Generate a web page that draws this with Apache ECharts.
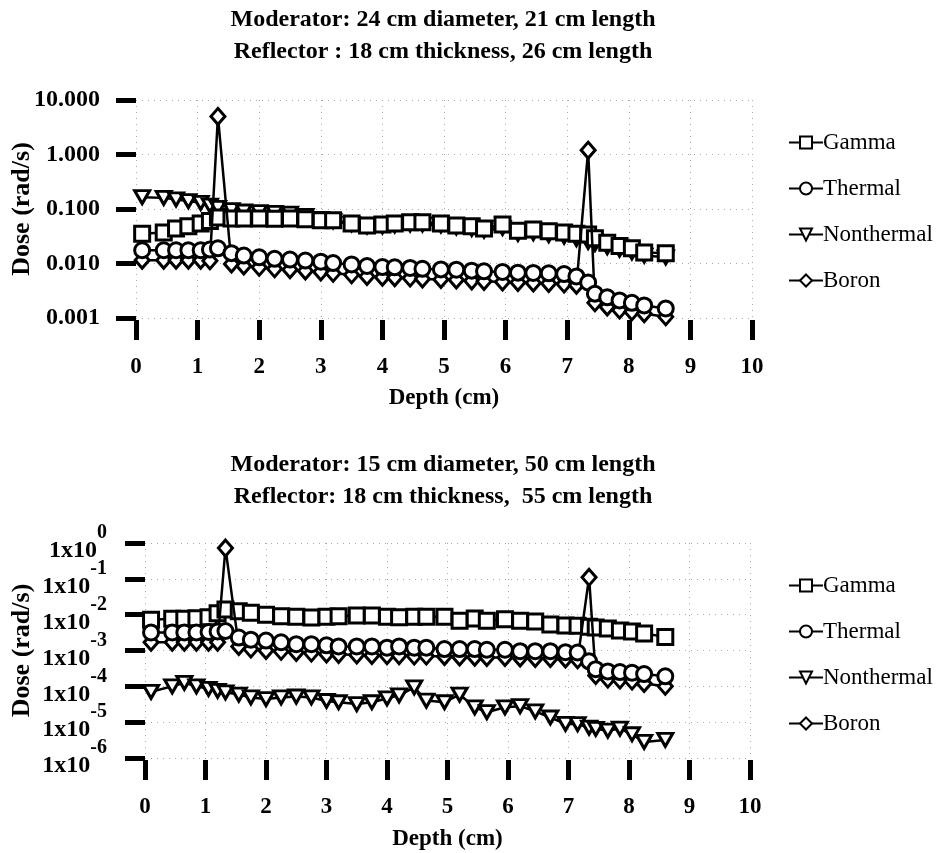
<!DOCTYPE html>
<html>
<head>
<meta charset="utf-8">
<script src="https://cdn.jsdelivr.net/npm/echarts@6/dist/echarts.min.js"></script>
<style>
  html, body { margin: 0; padding: 0; background: #fff; }
  #top { position: absolute; left: 0; top: 0; width: 942px; height: 430px; }
  #bottom { position: absolute; left: 0; top: 430px; width: 942px; height: 423px; }
</style>
</head>
<body>
<div id="top"></div>
<div id="bottom"></div>
<script>
// Depth positions (cm) shared by all dose profiles
const depth = [0.1, 0.45, 0.65, 0.85, 1.05, 1.2, 1.33, 1.55, 1.75, 2.0,
  2.25, 2.5, 2.75, 3.0, 3.2, 3.5, 3.75, 4.0, 4.2, 4.45,
  4.65, 4.95, 5.2, 5.45, 5.65, 5.95, 6.2, 6.45, 6.7, 6.95,
  7.15, 7.34, 7.45, 7.65, 7.85, 8.05, 8.25, 8.6];

// Case 1: 24 cm x 21 cm moderator, 18 cm x 26 cm reflector (rad/s)
const gammaA = [0.035, 0.037, 0.044, 0.048, 0.054, 0.060, 0.070, 0.067, 0.067, 0.067,
  0.066, 0.067, 0.065, 0.062, 0.062, 0.054, 0.050, 0.052, 0.054, 0.057,
  0.057, 0.054, 0.050, 0.048, 0.044, 0.052, 0.040, 0.042, 0.039, 0.037,
  0.035, 0.034, 0.029, 0.024, 0.021, 0.019, 0.016, 0.0155];
const thermalA = [0.0175, 0.0175, 0.0175, 0.0175, 0.0175, 0.018, 0.019, 0.0155, 0.0140, 0.0130,
  0.0122, 0.0118, 0.0113, 0.0108, 0.0102, 0.0096, 0.0090, 0.0086, 0.0085, 0.0083,
  0.0080, 0.0078, 0.0077, 0.0074, 0.0072, 0.0070, 0.0068, 0.0067, 0.0066, 0.0064,
  0.0058, 0.0045, 0.0028, 0.0024, 0.0021, 0.0019, 0.0017, 0.0015];
const nonthermalA = [0.165, 0.160, 0.150, 0.140, 0.130, 0.115, 0.105, 0.095, 0.090, 0.088,
  0.085, 0.082, 0.075, 0.066, 0.060, 0.053, 0.048, 0.048, 0.050, 0.052,
  0.052, 0.050, 0.046, 0.043, 0.040, 0.045, 0.035, 0.036, 0.033, 0.031,
  0.028, 0.025, 0.023, 0.020, 0.018, 0.016, 0.014, 0.013];
const boronA = [0.0115, 0.0115, 0.0115, 0.0115, 0.0115, 0.0112, 5.0, 0.0098, 0.0090, 0.0085,
  0.0080, 0.0077, 0.0073, 0.0070, 0.0066, 0.0062, 0.0058, 0.0056, 0.0055, 0.0054,
  0.0052, 0.0051, 0.0050, 0.0048, 0.0047, 0.0046, 0.0045, 0.0044, 0.0043, 0.0042,
  0.0040, 1.2, 0.0019, 0.0016, 0.0014, 0.0013, 0.0012, 0.00105];

// Case 2: 15 cm x 50 cm moderator, 18 cm x 55 cm reflector (rad/s)
const gammaB = [0.0072, 0.0077, 0.0077, 0.0080, 0.0085, 0.0110, 0.0140, 0.0125, 0.0114, 0.0100,
  0.0091, 0.0087, 0.0083, 0.0087, 0.0090, 0.0095, 0.0095, 0.0087, 0.0085, 0.0088,
  0.0088, 0.0088, 0.0068, 0.0078, 0.0068, 0.0075, 0.0068, 0.0064, 0.0053, 0.0050,
  0.0049, 0.0046, 0.0044, 0.0041, 0.0036, 0.0034, 0.0030, 0.0024];
const thermalB = [0.0032, 0.0032, 0.0032, 0.0032, 0.0033, 0.0034, 0.0035, 0.0023, 0.0020, 0.0019,
  0.0017, 0.0015, 0.0015, 0.0014, 0.0013, 0.0013, 0.0013, 0.0012, 0.0013, 0.0012,
  0.0012, 0.0011, 0.0011, 0.0011, 0.00105, 0.00105, 0.00096, 0.00096, 0.00096, 0.00090,
  0.00088, 0.00050, 0.00030, 0.00026, 0.00025, 0.00024, 0.00022, 0.00019];
const nonthermalB = [7.0e-5, 1.0e-4, 1.25e-4, 1.0e-4, 8.5e-5, 7.5e-5, 6.8e-5, 5.9e-5, 4.9e-5, 4.4e-5,
  4.9e-5, 5.2e-5, 4.9e-5, 3.9e-5, 3.6e-5, 3.2e-5, 3.6e-5, 4.6e-5, 5.6e-5, 9.4e-5,
  4.0e-5, 3.6e-5, 5.9e-5, 2.6e-5, 1.9e-5, 2.6e-5, 2.8e-5, 2.0e-5, 1.35e-5, 9.0e-6,
  8.8e-6, 7.0e-6, 6.5e-6, 5.8e-6, 6.6e-6, 4.6e-6, 2.8e-6, 3.2e-6];
const boronB = [0.0017, 0.0017, 0.0017, 0.0017, 0.0017, 0.0017, 0.72, 0.0013, 0.0011, 0.0010,
  0.00095, 0.00088, 0.00085, 0.00080, 0.00078, 0.00075, 0.00073, 0.00072, 0.00072, 0.00070,
  0.00070, 0.00068, 0.00066, 0.00065, 0.00064, 0.00064, 0.00062, 0.00060, 0.00060, 0.00058,
  0.00055, 0.11, 0.00020, 0.00016, 0.00015, 0.00014, 0.00012, 0.00010];

// Axis tick labels
const xTickLabels = ['0', '1', '2', '3', '4', '5', '6', '7', '8', '9', '10'];
const topYTicks = [0.001, 0.01, 0.1, 1, 10];
const topYLabels = ['0.001', '0.010', '0.100', '1.000', '10.000'];
const botYTicks = [1e-6, 1e-5, 1e-4, 1e-3, 1e-2, 1e-1, 1];
const botYExponents = ['-6', '-5', '-4', '-3', '-2', '-1', '0'];

const titlesA = ['Moderator: 24 cm diameter, 21 cm length', 'Reflector : 18 cm thickness, 26 cm length'];
const titlesB = ['Moderator: 15 cm diameter, 50 cm length', 'Reflector: 18 cm thickness,  55 cm length'];

const SERIF = '"Liberation Serif", "Times New Roman", serif';
const triDown = 'path://M0,0 L10,0 L5,9 Z';

// Tick lookup by decade (robust to floating-point error in log scale ticks)
function tickIndex(ticks, v) {
  const lv = Math.round(Math.log10(v));
  return ticks.findIndex(t => Math.round(Math.log10(t)) === lv);
}

function pairs(arr) { return depth.map((d, i) => [d, arr[i]]); }

function lineSeries(name, data, symbol, size, z) {
  return {
    name: name, type: 'line', data: pairs(data),
    symbol: symbol, symbolSize: size, showSymbol: true,
    z: z, animation: false,
    lineStyle: { color: '#000', width: 2.5 },
    itemStyle: { color: '#fff', borderColor: '#000', borderWidth: 3 },
    emphasis: { disabled: true }
  };
}

function buildOption(cfg) {
  return {
    animation: false,
    backgroundColor: '#fff',
    graphic: cfg.titles.map((t, i) => ({
      type: 'text', x: cfg.titleX, y: cfg.titleY + i * 32,
      style: { text: t, font: 'bold 24px ' + SERIF, fill: '#000',
               textAlign: 'center', textVerticalAlign: 'middle' }
    })),
    legend: {
      orient: 'vertical', left: 783, top: cfg.legendTop,
      data: ['Gamma', 'Thermal', 'Nonthermal', 'Boron'],
      itemWidth: 34, itemHeight: 15, itemGap: 23,
      textStyle: { fontFamily: SERIF, fontSize: 23, color: '#000', padding: [0, 0, 0, -5] },
      selectedMode: false
    },
    grid: { left: cfg.grid.left, top: cfg.grid.top, width: cfg.grid.width, height: cfg.grid.height,
            containLabel: false, outerBoundsMode: 'none' },
    xAxis: {
      type: 'value', min: 0, max: 10, interval: 1,
      offset: 2,
      name: 'Depth (cm)', nameLocation: 'middle', nameGap: cfg.xNameGap, nameMoveOverlap: false,
      nameTextStyle: { fontFamily: SERIF, fontWeight: 'bold', fontSize: 23, color: '#000' },
      axisLine: { show: false },
      axisTick: { show: true, inside: false, length: 20, lineStyle: { color: '#000', width: 5 } },
      axisLabel: { margin: 36, fontFamily: SERIF, fontWeight: 'bold', fontSize: 23, color: '#000',
                   formatter: v => xTickLabels[Math.round(v)] },
      splitLine: { show: true, lineStyle: { color: '#aaa', width: 1, type: [1, 5] } }
    },
    yAxis: {
      type: 'log', logBase: 10, min: cfg.yMin, max: cfg.yMax, splitNumber: cfg.ySplit,
      name: 'Dose (rad/s)', nameLocation: 'middle', nameGap: cfg.yNameGap, nameRotate: 90,
      nameMoveOverlap: false,
      nameTextStyle: { fontFamily: SERIF, fontWeight: 'bold', fontSize: 26, color: '#000' },
      axisLine: { show: false },
      axisTick: { show: true, inside: false, length: 20, lineStyle: { color: '#000', width: 5 } },
      axisLabel: Object.assign({ showMinLabel: true, showMaxLabel: true, hideOverlap: false }, cfg.yLabel),
      minorTick: { show: false },
      splitLine: { show: true, lineStyle: { color: '#aaa', width: 1, type: [1, 5] } }
    },
    series: [
      lineSeries('Nonthermal', cfg.data.nonthermal, triDown, [15, 13], 2),
      lineSeries('Gamma', cfg.data.gamma, 'rect', 15, 3),
      lineSeries('Boron', cfg.data.boron, 'diamond', [14, 16], 4),
      lineSeries('Thermal', cfg.data.thermal, 'circle', 15, 5)
    ]
  };
}

const topChart = echarts.init(document.getElementById('top'), null, { renderer: 'canvas' });
topChart.setOption(buildOption({
  titles: titlesA, titleX: 443, titleY: 20,
  legendTop: 126,
  grid: { left: 136, top: 100, width: 616, height: 218 },
  xNameGap: 67, yNameGap: 101,
  yMin: 0.00099999, yMax: 10.00001, ySplit: 4,
  yLabel: { margin: 36, fontFamily: SERIF, fontWeight: 'bold', fontSize: 24, color: '#000',
            formatter: v => topYLabels[tickIndex(topYTicks, v)] },
  data: { gamma: gammaA, thermal: thermalA, nonthermal: nonthermalA, boron: boronA }
}));

const bottomChart = echarts.init(document.getElementById('bottom'), null, { renderer: 'canvas' });
bottomChart.setOption(buildOption({
  titles: titlesB, titleX: 443, titleY: 35,
  legendTop: 139,
  grid: { left: 145, top: 113, width: 605, height: 215 },
  xNameGap: 68, yNameGap: 110,
  yMin: 0.99999e-6, yMax: 1.00001, ySplit: 6,
  yLabel: {
    margin: 38, color: '#000',
    formatter: v => '{b|1x10}{e|' + botYExponents[tickIndex(botYTicks, v)] + '}',
    rich: {
      b: { fontFamily: SERIF, fontWeight: 'bold', fontSize: 24, color: '#000', padding: [16, 0, 0, 0] },
      e: { fontFamily: SERIF, fontWeight: 'bold', fontSize: 20, color: '#000', verticalAlign: 'top' }
    }
  },
  data: { gamma: gammaB, thermal: thermalB, nonthermal: nonthermalB, boron: boronB }
}));
</script>
</body>
</html>
